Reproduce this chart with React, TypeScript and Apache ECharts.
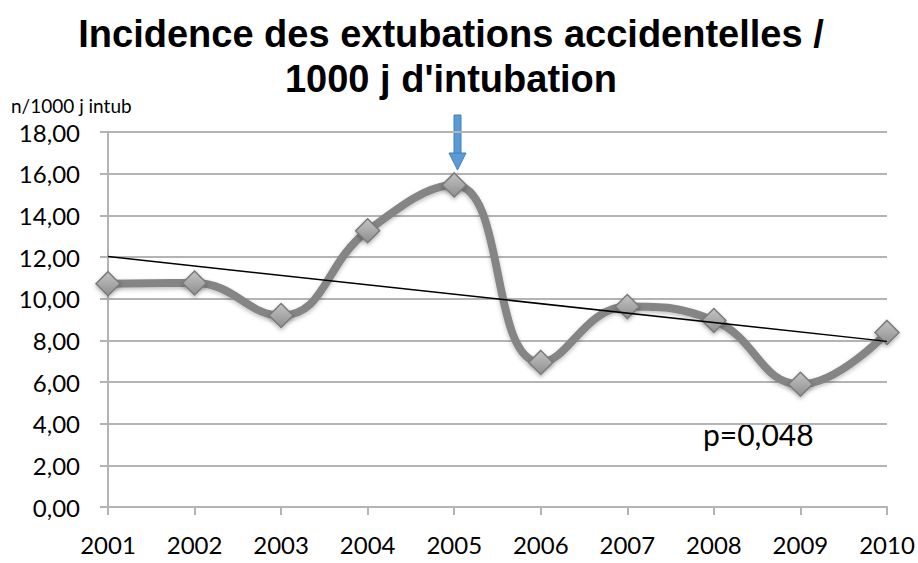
import React, { useEffect, useRef } from "react";
import * as echarts from "echarts";

const years = ["2001", "2002", "2003", "2004", "2005", "2006", "2007", "2008", "2009", "2010"];
const incidence = [10.72, 10.75, 9.19, 13.26, 15.46, 6.94, 9.62, 8.95, 5.89, 8.38];
const trendStart = 12.02;
const trendEnd = 7.95;
const titleText = "Incidence des extubations accidentelles /\n1000 j d'intubation";
const yUnit = "n/1000 j intub";
const pText = "p=0,048";

export default function App() {
  const ref = useRef<HTMLDivElement>(null);
  useEffect(() => {
    if (!ref.current) return;
    const chart = echarts.init(ref.current, null, { renderer: "svg" });
    const gridColor = "#b4b4b4";
    const labelFont = "Lato, 'Open Sans', sans-serif";
    chart.setOption({
      animation: false,
      backgroundColor: "#ffffff",
      title: {
        text: titleText,
        left: 446,
        textAlign: "center",
        top: 6,
        textStyle: {
          fontFamily: "Liberation Sans, Arial, sans-serif",
          fontWeight: "bold",
          fontSize: 38,
          lineHeight: 45,
          color: "#000",
        },
      },
      grid: { left: 108, right: 31, top: 132, bottom: 56 },
      xAxis: {
        type: "category",
        data: years,
        boundaryGap: false,
        axisLine: { lineStyle: { color: gridColor, width: 2 } },
        axisTick: { show: true, length: 8, lineStyle: { color: gridColor, width: 2 } },
        axisLabel: {
          margin: 25,
          fontFamily: labelFont,
          fontSize: 24,
          color: "#000",
        },
        splitLine: { show: false },
      },
      yAxis: {
        type: "value",
        min: 0,
        max: 18,
        interval: 2,
        axisLine: { show: true, lineStyle: { color: gridColor, width: 2 } },
        axisTick: { show: true, length: 8, lineStyle: { color: gridColor, width: 2 } },
        axisLabel: {
          margin: 28,
          fontFamily: labelFont,
          fontSize: 24,
          color: "#000",
          formatter: (v: number) => v.toFixed(2).replace(".", ","),
        },
        splitLine: { show: true, lineStyle: { color: gridColor, width: 2 } },
      },
      series: [
        {
          type: "line",
          data: incidence,
          smooth: 0.45,
          lineStyle: {
            color: "#858585",
            width: 8,
            shadowColor: "rgba(0,0,0,0.25)",
            shadowBlur: 4,
            shadowOffsetY: 2,
          },
          symbol: "diamond",
          symbolSize: 24,
          itemStyle: {
            color: new echarts.graphic.LinearGradient(0, 0, 0, 1, [
              { offset: 0, color: "#c4c4c4" },
              { offset: 1, color: "#8e8e8e" },
            ]),
            borderColor: "#7a7a7a",
            borderWidth: 1.5,
            shadowColor: "rgba(0,0,0,0.3)",
            shadowBlur: 4,
            shadowOffsetY: 2,
          },
          z: 3,
          markLine: {
            silent: true,
            symbol: "none",
            label: { show: false },
            lineStyle: { color: "#000", width: 1.5, type: "solid" },
            data: [[{ coord: [years[0], trendStart] }, { coord: [years[years.length - 1], trendEnd] }]],
            z: 4,
          },
        },
      ],
      graphic: [
        {
          type: "text",
          left: 11,
          top: 96,
          style: {
            text: yUnit,
            fontFamily: labelFont,
            fontSize: 19,
            fill: "#000",
          },
        },
        {
          type: "text",
          left: 703,
          top: 419,
          style: {
            text: pText,
            fontFamily: labelFont,
            fontSize: 30,
            fill: "#000",
          },
        },
        {
          type: "rect",
          shape: { x: 454, y: 115, width: 7, height: 40 },
          style: { fill: "#5b9bd5", stroke: "#3f7fc0", lineWidth: 1 },
        },
        {
          type: "polygon",
          shape: { points: [[449, 153], [466, 153], [457.5, 170]] },
          style: { fill: "#5b9bd5", stroke: "#3f7fc0", lineWidth: 1 },
        },
      ],
    });
    return () => chart.dispose();
  }, []);
  return (
    <div
      ref={ref}
      style={{ position: "absolute", left: 0, top: 0, width: 918, height: 563 }}
    />
  );
}
